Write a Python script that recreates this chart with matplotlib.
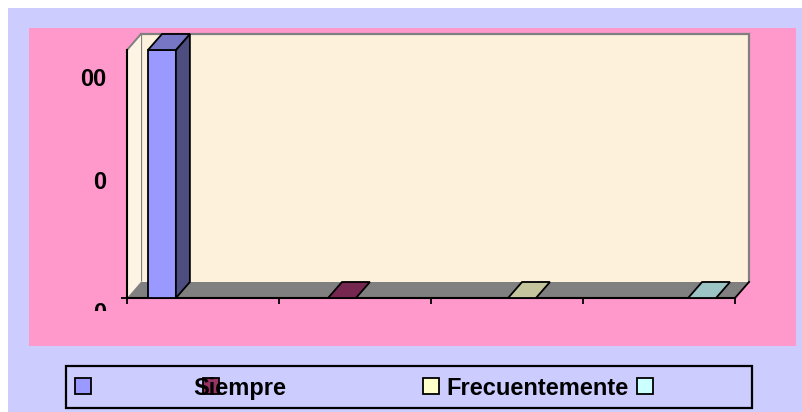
import matplotlib
matplotlib.use("Agg")
import matplotlib.pyplot as plt
from matplotlib.patches import Rectangle, Polygon
from matplotlib.transforms import Bbox
import matplotlib.colors as mcolors
import numpy as np

# ---- data ----
series_names = ["", "Siempre", "Frecuentemente", ""]
values = [100, 0, 0, 0]
colors = ["#9999FF", "#993366", "#FFFFCC", "#CCFFFF"]
y_labels = ["00", "0", "0"]

W, H = 803, 412
plt.rcParams['font.family'] = ['Liberation Sans', 'DejaVu Sans']
fig = plt.figure(figsize=(W / 100, H / 100), dpi=100, facecolor="white")


def fr(x0, y0, x1, y1):
    """pixel box (top-left origin) -> figure rect"""
    return (x0 / W, 1 - y1 / H, (x1 - x0) / W, (y1 - y0) / H)


def add_fig_rect(x0, y0, x1, y1, fc, ec="none", lw=0, z=-5):
    r = Rectangle(fr(x0, y0, x1, y1)[:2], (x1 - x0) / W, (y1 - y0) / H,
                  transform=fig.transFigure, facecolor=fc, edgecolor=ec,
                  linewidth=lw, zorder=z)
    fig.patches.append(r)
    return r


# backgrounds
add_fig_rect(8, 8, 803, 412, "#CCCCFF", z=-6)
add_fig_rect(29, 28, 796, 346, "#FF99CC", z=-5)

# ---- main axes (front plane) ----
ax = fig.add_axes(fr(127, 50, 735, 298))
ax.set_facecolor("none")
x = np.arange(len(values))
ax.set_xlim(-0.194, 3.183)
ax.set_ylim(0, 100)
x0, x1 = ax.get_xlim()
ytop = ax.get_ylim()[1]

# depth offset in data units
dpx, dpy = 14, 16
p0 = ax.transData.transform((0, 0))
ddx, ddy = ax.transData.inverted().transform(p0 + np.array([dpx, dpy]))

wall = "#FDF1DC"
# back wall
ax.add_patch(Rectangle((x0 + ddx, ddy), x1 - x0, ytop, facecolor=wall,
                       edgecolor="none", clip_on=False, zorder=1))
ax.plot([x0 + ddx, x0 + ddx, x1 + ddx, x1 + ddx],
        [ddy, ytop + ddy, ytop + ddy, ddy], color="#808080", lw=1.6,
        clip_on=False, zorder=1.2, solid_joinstyle="miter")
# side wall
ax.add_patch(Polygon([(x0, 0), (x0, ytop), (x0 + ddx, ytop + ddy), (x0 + ddx, ddy)],
                     closed=True, facecolor="#FDF4E4", edgecolor="none",
                     clip_on=False, zorder=1.3))
ax.plot([x0, x0 + ddx], [ytop, ytop + ddy], color="#808080", lw=1.4,
        clip_on=False, zorder=1.4)
ax.plot([x0 + 0.01, x0 + ddx], [0, ddy], color="#DDDDDD", lw=1.0,
        clip_on=False, zorder=1.4)
# floor
ax.add_patch(Polygon([(x0, 0), (x1, 0), (x1 + ddx, ddy), (x0 + ddx, ddy)],
                     closed=True, facecolor="#808080", edgecolor="none",
                     clip_on=False, zorder=1.5))
ax.plot([x1, x1 + ddx], [0, ddy], color="black", lw=1.3, clip_on=False, zorder=1.6)

# bars
bw = 0.155
ax.bar(x, values, width=bw, color=colors, edgecolor="black", linewidth=1.3,
       zorder=4, clip_on=False)


def shade(c, f):
    r, g, b = mcolors.to_rgb(c)
    return (r * f, g * f, b * f)


for xi, v, c in zip(x, values, colors):
    xl, xr = xi - bw / 2, xi + bw / 2
    if v > 0:
        ax.add_patch(Polygon([(xr, 0), (xr, v), (xr + ddx, v + ddy), (xr + ddx, ddy)],
                             closed=True, facecolor=shade(c, 0.5), edgecolor="black",
                             linewidth=1.3, clip_on=False, zorder=4.1))
    ax.add_patch(Polygon([(xl, v), (xr, v), (xr + ddx, v + ddy), (xl + ddx, v + ddy)],
                         closed=True, facecolor=shade(c, 0.77), edgecolor="black",
                         linewidth=1.3, clip_on=False, zorder=4.2))

# axes lines / ticks
for s in ("top", "right"):
    ax.spines[s].set_visible(False)
for s in ("left", "bottom"):
    ax.spines[s].set_color("black")
    ax.spines[s].set_linewidth(1.5)
    ax.spines[s].set_zorder(3)
ax.set_xticks(np.linspace(x0, x1, 5))
ax.set_xticklabels([])
ax.set_yticks([0])
ax.set_yticklabels([])
ax.tick_params(axis="both", direction="out", length=4, width=1.3, color="black")

# value-axis labels (clipped as in the source)
label_baselines = [86, 189, 320]
for lab, yb in zip(y_labels, label_baselines):
    t = fig.text(106 / W, 1 - yb / H, lab, ha="right", va="baseline",
                 fontsize=17, fontweight="bold", color="black")
    if yb > 300:
        t.set_clip_on(True)
        t.set_clip_box(Bbox.from_extents(0, H - 311, W, H))

# ---- legend ----
add_fig_rect(66, 366, 752, 408, "#CCCCFF", ec="black", lw=1.6, z=5)
marker_x = [75, 203, 423, 637]
text_x = [None, 193, 446, None]
for mx, c in zip(marker_x, colors):
    add_fig_rect(mx, 378, mx + 16, 394, c, ec="black", lw=1.3, z=6)
for tx, name in zip(text_x, series_names):
    if tx is not None and name:
        fig.text(tx / W, 1 - 395 / H, name, ha="left", va="baseline",
                 fontsize=17, fontweight="bold", color="black", zorder=7)

fig.savefig("out.png", dpi=100, facecolor=fig.get_facecolor())
